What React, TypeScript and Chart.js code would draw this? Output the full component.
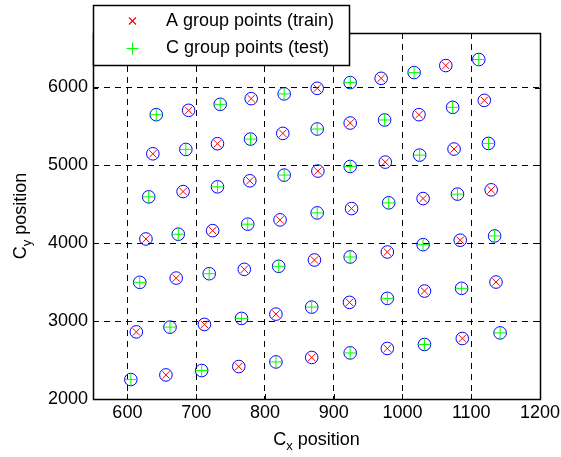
import React, { useEffect, useRef } from 'react';
import { Chart, registerables } from 'chart.js';

Chart.register(...registerables);

// A group (train) points
const aX = [689, 780, 876, 969, 1063,
  637, 731, 826, 924, 1024, 1119,
  681, 778, 877, 975, 1075,
  627, 724, 822, 926, 1030, 1129,
  671, 770, 872, 978, 1084,
  613, 712, 816, 923, 1032, 1136,
  656, 762, 868, 978, 1087];
const aY = [5707, 5857, 5990, 6118, 6282,
  5149, 5278, 5411, 5544, 5651, 5835,
  4664, 4802, 4927, 5042, 5210,
  4055, 4162, 4300, 4445, 4574, 4686,
  3553, 3665, 3785, 3888, 4039,
  2862, 2958, 3090, 3241, 3386, 3502,
  2309, 2417, 2533, 2649, 2777];

// C group (test) points
const cX = [642, 735, 828, 924, 1017, 1111,
  685, 779, 876, 974, 1073,
  631, 731, 828, 924, 1025, 1125,
  674, 775, 876, 980, 1080,
  618, 719, 820, 924, 1030, 1134,
  662, 766, 868, 978, 1086,
  605, 708, 816, 924, 1032, 1142];
const cY = [5651, 5784, 5918, 6063, 6192, 6359,
  5205, 5338, 5467, 5583, 5745,
  4596, 4725, 4875, 4986, 5132, 5282,
  4116, 4245, 4390, 4519, 4631,
  3498, 3609, 3704, 3824, 3982, 4094,
  2923, 3035, 3180, 3292, 3421,
  2250, 2366, 2476, 2592, 2700, 2849];

const xTicks = [600, 700, 800, 900, 1000, 1100, 1200];
const yTicks = [2000, 3000, 4000, 5000, 6000];
const xMin = 550, xMax = 1200, yMin = 2000, yMax = 6700;
const legendLabels = ['A group points (train)', 'C group points (test)'];
const xTitle = ['C', 'x', ' position'];
const yTitle = ['C', 'y', ' position'];

const FONT = '"Liberation Sans", Arial, Helvetica, sans-serif';
const FS = 18;
const SUB = 13;

function drawTitle(ctx: CanvasRenderingContext2D, parts: string[], cx: number, cy: number, rotate: boolean) {
  ctx.save();
  ctx.translate(cx, cy);
  if (rotate) ctx.rotate(-Math.PI / 2);
  ctx.fillStyle = '#000';
  ctx.textBaseline = 'alphabetic';
  ctx.textAlign = 'left';
  ctx.font = `${FS}px ${FONT}`;
  const w0 = ctx.measureText(parts[0]).width;
  const w2 = ctx.measureText(parts[2]).width;
  ctx.font = `${SUB}px ${FONT}`;
  const w1 = ctx.measureText(parts[1]).width;
  let x = -(w0 + w1 + w2) / 2;
  ctx.font = `${FS}px ${FONT}`;
  ctx.fillText(parts[0], x, 0);
  x += w0;
  ctx.font = `${SUB}px ${FONT}`;
  ctx.fillText(parts[1], x, 5);
  x += w1;
  ctx.font = `${FS}px ${FONT}`;
  ctx.fillText(parts[2], x, 0);
  ctx.restore();
}

const decor = {
  id: 'decor',
  beforeDatasetsDraw(chart: any) {
    const { ctx, chartArea: a, scales } = chart;
    const x = scales.x, y = scales.y;
    ctx.save();
    ctx.strokeStyle = '#000';
    ctx.lineWidth = 1;
    ctx.setLineDash([]);
    ctx.beginPath();
    xTicks.forEach((v) => {
      const px = Math.round(x.getPixelForValue(v)) + 0.5;
      ctx.moveTo(px, a.bottom); ctx.lineTo(px, a.bottom - 5);
      ctx.moveTo(px, a.top); ctx.lineTo(px, a.top + 5);
    });
    yTicks.forEach((v) => {
      const py = Math.round(y.getPixelForValue(v)) + 0.5;
      ctx.moveTo(a.left, py); ctx.lineTo(a.left + 5, py);
      ctx.moveTo(a.right, py); ctx.lineTo(a.right - 5, py);
    });
    ctx.stroke();
    ctx.lineWidth = 1.5;
    ctx.strokeRect(Math.round(a.left) + 0.5, Math.round(a.top) + 0.5,
      Math.round(a.right - a.left), Math.round(a.bottom - a.top));
    ctx.restore();
  },
  afterDraw(chart: any) {
    const { ctx, chartArea: a, scales } = chart;
    const x = scales.x, y = scales.y;
    ctx.save();
    ctx.fillStyle = '#000';
    ctx.font = `${FS}px ${FONT}`;
    ctx.textAlign = 'center';
    ctx.textBaseline = 'top';
    xTicks.forEach((v) => ctx.fillText(String(v), x.getPixelForValue(v), a.bottom + 5));
    ctx.textAlign = 'right';
    ctx.textBaseline = 'middle';
    yTicks.forEach((v) => ctx.fillText(String(v), a.left - 5, y.getPixelForValue(v)));
    ctx.restore();

    drawTitle(ctx, xTitle, (a.left + a.right) / 2, 445, false);
    drawTitle(ctx, yTitle, 26, (a.top + a.bottom) / 2, true);

    // legend
    ctx.save();
    const lx = Math.round(a.left) + 0.5, ly = 5.5, lw = 256, lh = 60;
    ctx.fillStyle = '#fff';
    ctx.fillRect(lx, ly, lw, lh);
    ctx.strokeStyle = '#000';
    ctx.lineWidth = 1.5;
    ctx.setLineDash([]);
    ctx.strokeRect(lx, ly, lw, lh);
    const rows = [21, 48];
    ctx.lineWidth = 1.2;
    ctx.strokeStyle = 'rgb(255,0,0)';
    ctx.beginPath();
    ctx.moveTo(129, rows[0] - 3.5); ctx.lineTo(136, rows[0] + 3.5);
    ctx.moveTo(136, rows[0] - 3.5); ctx.lineTo(129, rows[0] + 3.5);
    ctx.stroke();
    ctx.lineWidth = 1;
    ctx.strokeStyle = 'rgb(0,255,0)';
    ctx.beginPath();
    ctx.moveTo(126.5, rows[1] + 0.5); ctx.lineTo(138.5, rows[1] + 0.5);
    ctx.moveTo(132.5, rows[1] - 5.5); ctx.lineTo(132.5, rows[1] + 6.5);
    ctx.stroke();
    ctx.fillStyle = '#000';
    ctx.font = `${FS}px ${FONT}`;
    ctx.textAlign = 'left';
    ctx.textBaseline = 'middle';
    ctx.fillText(legendLabels[0], 166, rows[0] + 0.5);
    ctx.fillText(legendLabels[1], 166, rows[1] + 0.5);
    ctx.restore();
  },
};

export default function App() {
  const ref = useRef<HTMLCanvasElement>(null);
  useEffect(() => {
    if (!ref.current) return;
    const aPts = aX.map((v, i) => ({ x: v, y: aY[i] }));
    const cPts = cX.map((v, i) => ({ x: v, y: cY[i] }));
    const chart = new Chart(ref.current, {
      type: 'scatter',
      data: {
        datasets: [
          {
            label: legendLabels[0],
            data: aPts,
            pointStyle: 'crossRot',
            pointRadius: 5.2,
            borderColor: '#ff0000',
            backgroundColor: 'rgba(0,0,0,0)',
            pointBorderWidth: 1,
          },
          {
            label: legendLabels[1],
            data: cPts,
            pointStyle: 'cross',
            pointRadius: 6,
            borderColor: '#00ff00',
            backgroundColor: 'rgba(0,0,0,0)',
            pointBorderWidth: 1,
          },
          {
            label: 'all',
            data: [...aPts, ...cPts],
            pointStyle: 'circle',
            pointRadius: 6.3,
            borderColor: '#0000ff',
            backgroundColor: 'rgba(0,0,0,0)',
            pointBorderWidth: 1,
          },
        ],
      } as any,
      options: {
        animation: false,
        responsive: false,
        devicePixelRatio: 1,
        events: [],
        layout: { padding: { left: 0, top: 33, right: 21, bottom: 0 } },
        plugins: { legend: { display: false }, tooltip: { enabled: false } },
        scales: {
          x: {
            type: 'linear',
            min: xMin,
            max: xMax,
            afterBuildTicks: (s: any) => { s.ticks = xTicks.map((v) => ({ value: v })); },
            afterFit: (s: any) => { s.height = 58; },
            ticks: { display: false },
            grid: { color: '#000', lineWidth: 1, drawTicks: false },
            border: { display: false, dash: [6, 5] },
          },
          y: {
            type: 'linear',
            min: yMin,
            max: yMax,
            afterBuildTicks: (s: any) => { s.ticks = yTicks.map((v) => ({ value: v })); },
            afterFit: (s: any) => { s.width = 93; },
            ticks: { display: false },
            grid: { color: '#000', lineWidth: 1, drawTicks: false },
            border: { display: false, dash: [6, 5] },
          },
        },
      } as any,
      plugins: [decor],
    });
    return () => chart.destroy();
  }, []);
  return (
    <div style={{ position: 'fixed', left: 0, top: 0, width: 561, height: 457, background: '#fff' }}>
      <canvas ref={ref} width={561} height={457} style={{ display: 'block' }} />
    </div>
  );
}
